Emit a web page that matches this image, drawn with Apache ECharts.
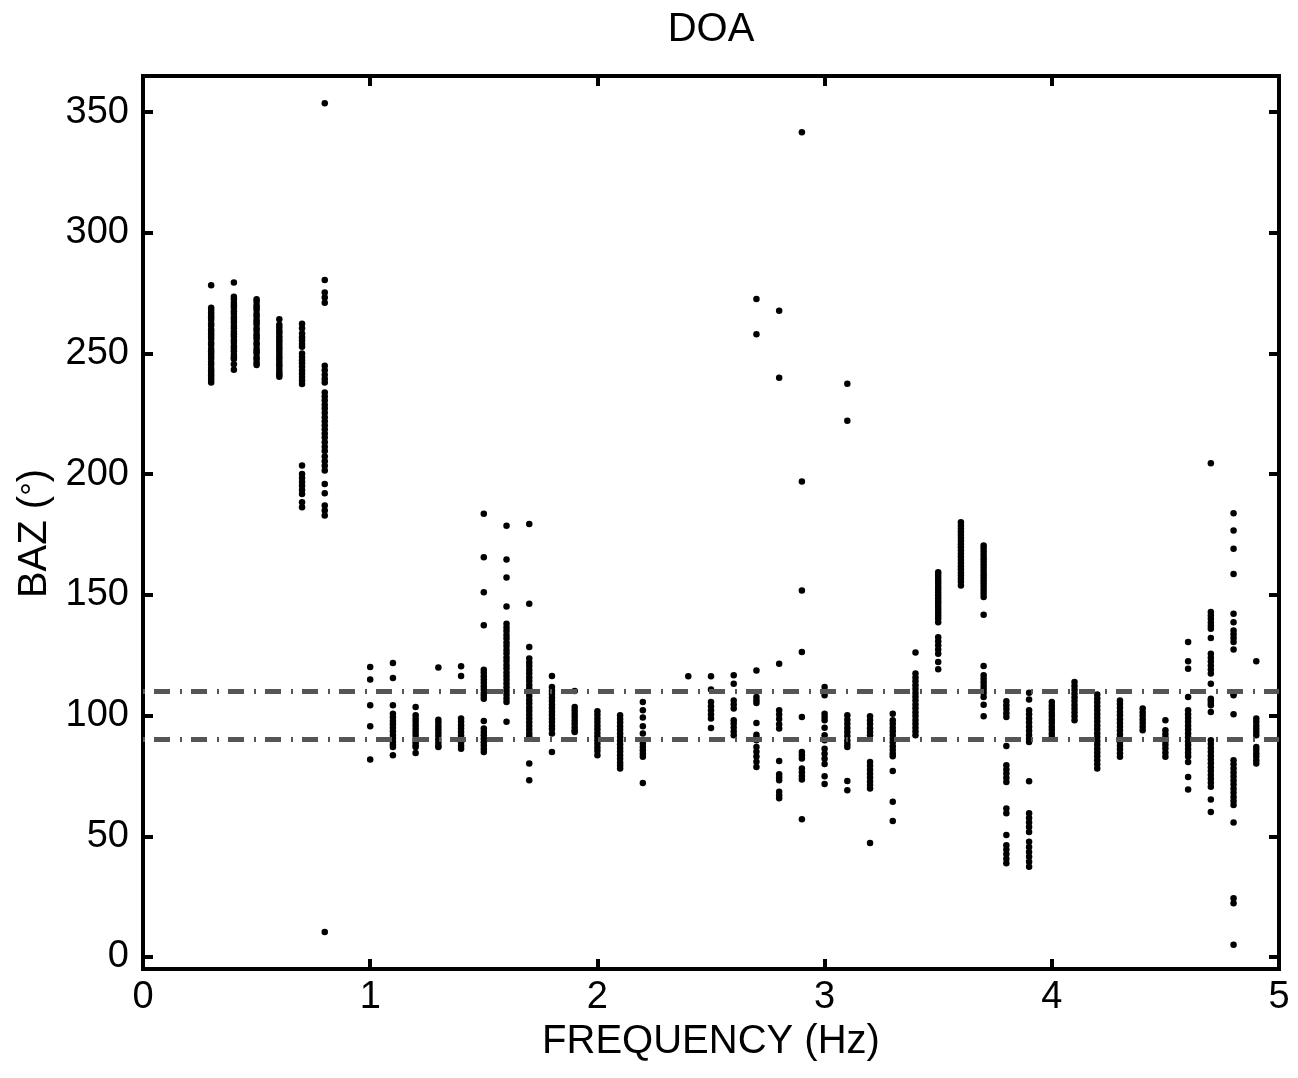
<!DOCTYPE html>
<html>
<head>
<meta charset="utf-8">
<title>DOA</title>
<script src="https://cdn.jsdelivr.net/npm/echarts@6/dist/echarts.min.js"></script>
<style>
  html, body { margin: 0; padding: 0; background: #fff; }
  #main { width: 1298px; height: 1078px; }
</style>
</head>
<body>
<div id="main"></div>
<script>
// frequency of each column of estimates (Hz)
const freqs = [0.3, 0.4, 0.5, 0.6, 0.7, 0.8, 1.0, 1.1, 1.2, 1.3, 1.4, 1.5, 1.6, 1.7, 1.8, 1.9, 2.0, 2.1, 2.2,
  2.4, 2.5, 2.6, 2.7, 2.8, 2.9, 3.0, 3.1, 3.2, 3.3, 3.4, 3.5, 3.6, 3.7, 3.8, 3.9, 4.0, 4.1, 4.2, 4.3, 4.4,
  4.5, 4.6, 4.7, 4.8, 4.9]

// back azimuth estimates (deg) per column, same order as freqs
const baz = [
  [278.3, 269, 268, 267, 266, 265, 264, 262.5, 261.5, 260, 259, 258, 257, 256, 254.5, 253.5, 252, 251, 250, 249, 248, 246.5, 245.5, 244, 243, 242, 241, 240, 239, 238],
  [279.4, 273.5, 272.5, 271, 270, 269, 267.5, 266.5, 265, 264, 263, 261.5, 260.5, 259, 258, 257, 255.5, 254.5, 253, 252, 251, 249.5, 248.5, 247.7, 245.6, 243.3],
  [272.5, 271.5, 270, 269, 268, 266.5, 265.5, 264, 263, 262, 260.5, 259.5, 258, 257, 256, 254.5, 253.5, 252, 251, 250, 248.5, 247.5, 246.2, 245.3],
  [264.2, 261.9, 260.8, 259.5, 258.5, 257.2, 256, 255, 253.7, 252.5, 251.5, 250.2, 249, 248, 246.7, 245.5, 244.5, 243.2, 242, 241.2, 240.4],
  [262.4, 260.5, 258.3, 256.8, 255.5, 254, 252.8, 250, 248.6, 247.2, 246, 244.5, 243, 241.6, 240.3, 238.8, 237.4, 203.6, 200.1, 198.4, 196.8, 195.2, 193.5, 191.8, 188.4, 186.3],
  [353.7, 280.5, 275.3, 273.2, 271.1, 244.9, 243.1, 241.2, 239.5, 238, 233.9, 232.2, 230.6, 228.8, 227.2, 225.5, 223.6, 222, 220.3, 218.6, 216.9, 215.2, 213.3, 211.4, 209.6, 207.3, 205.4, 203.5, 201.5, 196, 192.1, 187, 185, 182.9, 10.3],
  [120.1, 115.0, 104.3, 95.6, 81.8],
  [121.8, 115.6, 104.3, 100.8, 99.3, 97.8, 96.4, 95, 93.5, 92, 90.6, 89.2, 87.9, 87.0, 83.6],
  [103.6, 100.1, 98.7, 97.4, 96, 94.5, 93.2, 91.8, 90.3, 89, 87.8, 87, 84.5],
  [119.9, 98.3, 97, 95.6, 94.3, 93, 91.6, 90.2, 88.8, 87.5, 87.0],
  [120.4, 116.4, 98.8, 97.4, 96, 94.6, 93.2, 91.7, 90.3, 88.9, 87.5, 86.3],
  [183.6, 165.6, 151.1, 137.4, 119.0, 117.7, 116.3, 115, 113.6, 112.2, 110.8, 109.4, 108.2, 107.0, 97.8, 94.6, 93.2, 91.8, 90.4, 89, 87.6, 86.2, 84.9],
  [178.7, 164.7, 157.2, 145.2, 138, 136.5, 135, 133.4, 131.9, 130.3, 128.8, 127.2, 125.7, 124.1, 122.6, 121, 119.5, 117.9, 116.4, 114.8, 113.3, 111.7, 110.2, 108.6, 107.1, 105.6, 97.4],
  [179.4, 146.3, 128.4, 123.6, 122, 120.5, 118.9, 117.4, 115.8, 114.3, 112.7, 111.2, 109.6, 108.1, 106.5, 105, 103.4, 101.9, 100.3, 98.8, 97.2, 95.7, 94.1, 92.6, 91.3, 90.5, 80.1, 73.2],
  [116.4, 111.8, 110.3, 108.9, 107.4, 106, 104.5, 103.1, 101.6, 100.2, 98.7, 97.3, 95.8, 94.4, 92.6, 84.9],
  [110.2, 103.6, 102.2, 100.8, 99.4, 98, 96.6, 95.2, 93.8, 93.2],
  [101.8, 100.3, 98.8, 97.3, 95.8, 94.3, 92.8, 91.3, 89.8, 88.3, 86.8, 85.3, 83.6],
  [100.1, 98.6, 97.1, 95.6, 94.1, 92.6, 91.1, 89.6, 88.1, 86.6, 85.1, 83.6, 82.1, 80.6, 79.3, 78.1],
  [105.6, 102.2, 99.2, 95.6, 92.6, 89.8, 88.4, 87, 85.6, 84.2, 82.9, 72.1],
  [116.3],
  [116.3, 110.8, 105.6, 103.9, 102.2, 100.4, 98.8, 94.9],
  [116.7, 113.2, 106.3, 104.6, 102.9, 98.1, 96.7, 95.1, 93.4, 91.8],
  [272.6, 258, 118.7, 107.7, 106.4, 105.2, 96.9, 92.1, 91, 89.8, 87, 85, 83, 80.9, 78.7],
  [267.7, 240, 121.5, 102.2, 100.4, 98.6, 96.4, 94.6, 81.2, 75.7, 74.5, 73.2, 68.4, 67, 65.7],
  [341.7, 197, 151.8, 126.3, 99.4, 84.9, 83.6, 82.2, 78.1, 76.5, 75, 73.5, 57.0],
  [111.8, 110.1, 108.4, 100.8, 99.4, 98.1, 95, 91.8, 89.8, 86.3, 84.2, 82.1, 79.9, 74.9, 71.6],
  [237.5, 222.2, 100.1, 98.3, 96.6, 94.9, 93.2, 91.5, 89.7, 88.2, 87.0, 72.9, 69.1],
  [99.7, 98.1, 96.5, 94.8, 93.2, 91.8, 80.8, 79.2, 77.6, 75.9, 74.3, 72.7, 71.2, 69.8, 47.2],
  [100.8, 98.1, 96.6, 95, 93.5, 92, 90.4, 88.9, 87.3, 85.8, 84.3, 83.2, 77.0, 64.3, 56.3],
  [126.1, 117.4, 115.8, 114.2, 112.6, 111, 109.4, 107.8, 106.2, 104.6, 103, 101.4, 99.8, 98.2, 96.6, 95, 93.4, 91.9],
  [159.4, 158.2, 157, 155.8, 154.6, 153.4, 152.2, 151, 149.8, 148.6, 147.4, 146.2, 145, 143.8, 142.6, 141.4, 140.2, 138.7, 132.5, 130.8, 129.1, 127.4, 125.6, 122.2, 119.2],
  [180.1, 178.8, 177.5, 176.2, 174.9, 173.6, 172.3, 171, 169.7, 168.4, 167.1, 165.8, 164.5, 163.2, 161.9, 160.6, 159.3, 158, 156.7, 155.4, 153.9],
  [170.5, 169.2, 167.9, 166.5, 165.2, 163.9, 162.6, 161.2, 159.9, 158.6, 157.3, 156, 154.7, 153.4, 152, 150.6, 149.1, 141.8, 120.5, 116.7, 115.3, 113.8, 112.4, 111, 109.5, 107.7, 104.5, 99.7],
  [105.9, 104.3, 102.7, 101, 99.4, 87.4, 79.4, 77.7, 76, 74.2, 72.5, 61.5, 59.5, 50.5, 46.3, 44.5, 42.6, 40.7, 38.8],
  [109.5, 106.7, 102.2, 100.5, 98.8, 97.1, 95.4, 93.7, 92, 90.4, 89.1, 72.8, 59.5, 57.6, 55.7, 53.8, 51.8, 47.7, 45.6, 43.5, 41.5, 39.4, 37.4],
  [105.6, 104.1, 102.7, 101.2, 99.8, 98.3, 96.9, 95.4, 94, 92.5, 91.1],
  [113.9, 112.3, 110.7, 109.2, 107.6, 106, 104.4, 102.8, 101.3, 99.7, 98.1],
  [108.7, 107.1, 105.5, 103.9, 102.3, 100.7, 99.1, 97.5, 95.9, 94.3, 92.7, 91.1, 89.5, 87.9, 86.3, 84.7, 83.1, 81.5, 79.8, 78.1],
  [106.3, 104.8, 103.2, 101.6, 100.1, 98.5, 96.9, 95.4, 93.8, 92.2, 90.7, 89.1, 87.5, 86, 84.4, 82.9],
  [102.9, 101.4, 99.9, 98.4, 96.9, 95.4, 93.9],
  [98.1, 93.9, 92.4, 90.9, 89.4, 87.9, 86.4, 84.6, 82.9],
  [130.5, 122.5, 119.4, 107.7, 102.2, 100.6, 99, 97.4, 95.8, 94.2, 92.6, 91, 89.4, 87.8, 86.2, 84.6, 83, 80.8, 74.6, 69.4],
  [204.5, 142.9, 141.5, 140.1, 138.6, 137.2, 136, 132.1, 125.6, 124, 122.4, 120.8, 119.1, 117.4, 113.2, 107, 106.3, 105.2, 104.3, 101.5, 89.8, 88.2, 86.6, 85, 83.4, 81.8, 80.2, 78.6, 77, 75.4, 73.8, 72.2, 70.5, 65.2, 60.1],
  [183.8, 176.7, 169.1, 158.7, 142.2, 138.7, 135.3, 133.7, 132.1, 130.5, 127.4, 109.1, 108.4, 100.5, 81.5, 79.8, 78.1, 76.4, 74.8, 73.1, 71.4, 69.7, 68, 66.3, 64.6, 62.9, 55.7, 24.3, 22.2, 5.0],
  [122.5, 98.8, 97.4, 95.9, 94.5, 93.2, 91.8, 87, 85.7, 84.3, 83, 81.5, 80.1]
]

// dash-dot reference bounds (deg)
const refLines = [90, 110]

const xMin = 0, xMax = 5
const yMin = -5, yMax = 365

let points = []
freqs.forEach((f, i) => {
  baz[i].forEach(v => points.push([f, v]))
})

const font = 'Liberation Sans, Arial, Helvetica, sans-serif'

function xAx(pos, showLabel) {
  return {
    type: 'value', position: pos, min: xMin, max: xMax, interval: 1,
    axisLine: { show: true, onZero: false, lineStyle: { color: '#000', width: 4 } },
    axisTick: { show: true, inside: true, length: 10, lineStyle: { color: '#000', width: 4 } },
    splitLine: { show: false },
    axisLabel: { show: showLabel, inside: false, fontSize: 38, color: '#000', fontFamily: font, margin: 10 }
  }
}
function yAx(pos, showLabel) {
  return {
    type: 'value', position: pos, min: yMin, max: yMax, splitNumber: 8,
    axisLine: { show: true, onZero: false, lineStyle: { color: '#000', width: 4 } },
    axisTick: { show: true, inside: true, length: 10, lineStyle: { color: '#000', width: 4 } },
    splitLine: { show: false },
    axisLabel: {
      show: showLabel, inside: false, fontSize: 38, color: '#000', fontFamily: font, margin: 14,
      showMinLabel: false, showMaxLabel: false,
      formatter: v => (v % 50 === 0 ? String(v) : '')
    }
  }
}

const bottomX = xAx('bottom', true)
bottomX.name = 'FREQUENCY (Hz)'
bottomX.nameLocation = 'middle'
bottomX.nameGap = 53
bottomX.nameTextStyle = { fontSize: 40, color: '#000', fontFamily: font }

// compact degree sign, like the superscript o of the original label
const leftY = yAx('left', true)
leftY.name = 'BAZ ({deg|°})'
leftY.nameLocation = 'middle'
leftY.nameGap = 86
leftY.nameTextStyle = {
  fontSize: 40, color: '#000', fontFamily: font, padding: [0, 22, 0, 0],
  rich: { deg: { fontSize: 34, color: '#000', fontFamily: font } }
}

const chart = echarts.init(document.getElementById('main'))
chart.setOption({
  backgroundColor: '#fff',
  animation: false,
  title: {
    text: 'DOA', left: 711, top: 10, textAlign: 'center', padding: 0,
    textStyle: { fontSize: 40, fontWeight: 'normal', color: '#000', fontFamily: font }
  },
  grid: {
    left: 143, right: 19, top: 76, bottom: 109,
    show: true, borderColor: '#000', borderWidth: 4, backgroundColor: 'transparent'
  },
  xAxis: [bottomX, xAx('top', false)],
  yAxis: [leftY, yAx('right', false)],
  series: [
    {
      type: 'scatter',
      xAxisIndex: 0, yAxisIndex: 0,
      symbol: 'circle',
      symbolSize: 6.5,
      itemStyle: { color: '#000', opacity: 1 },
      data: points,
      markLine: {
        silent: true,
        symbol: ['none', 'none'],
        label: { show: false },
        lineStyle: { color: '#555', width: 5, type: [16, 10, 2, 9], dashOffset: 26, opacity: 1 },
        data: refLines.map(v => ({ yAxis: v }))
      }
    }
  ]
})
</script>
</body>
</html>
